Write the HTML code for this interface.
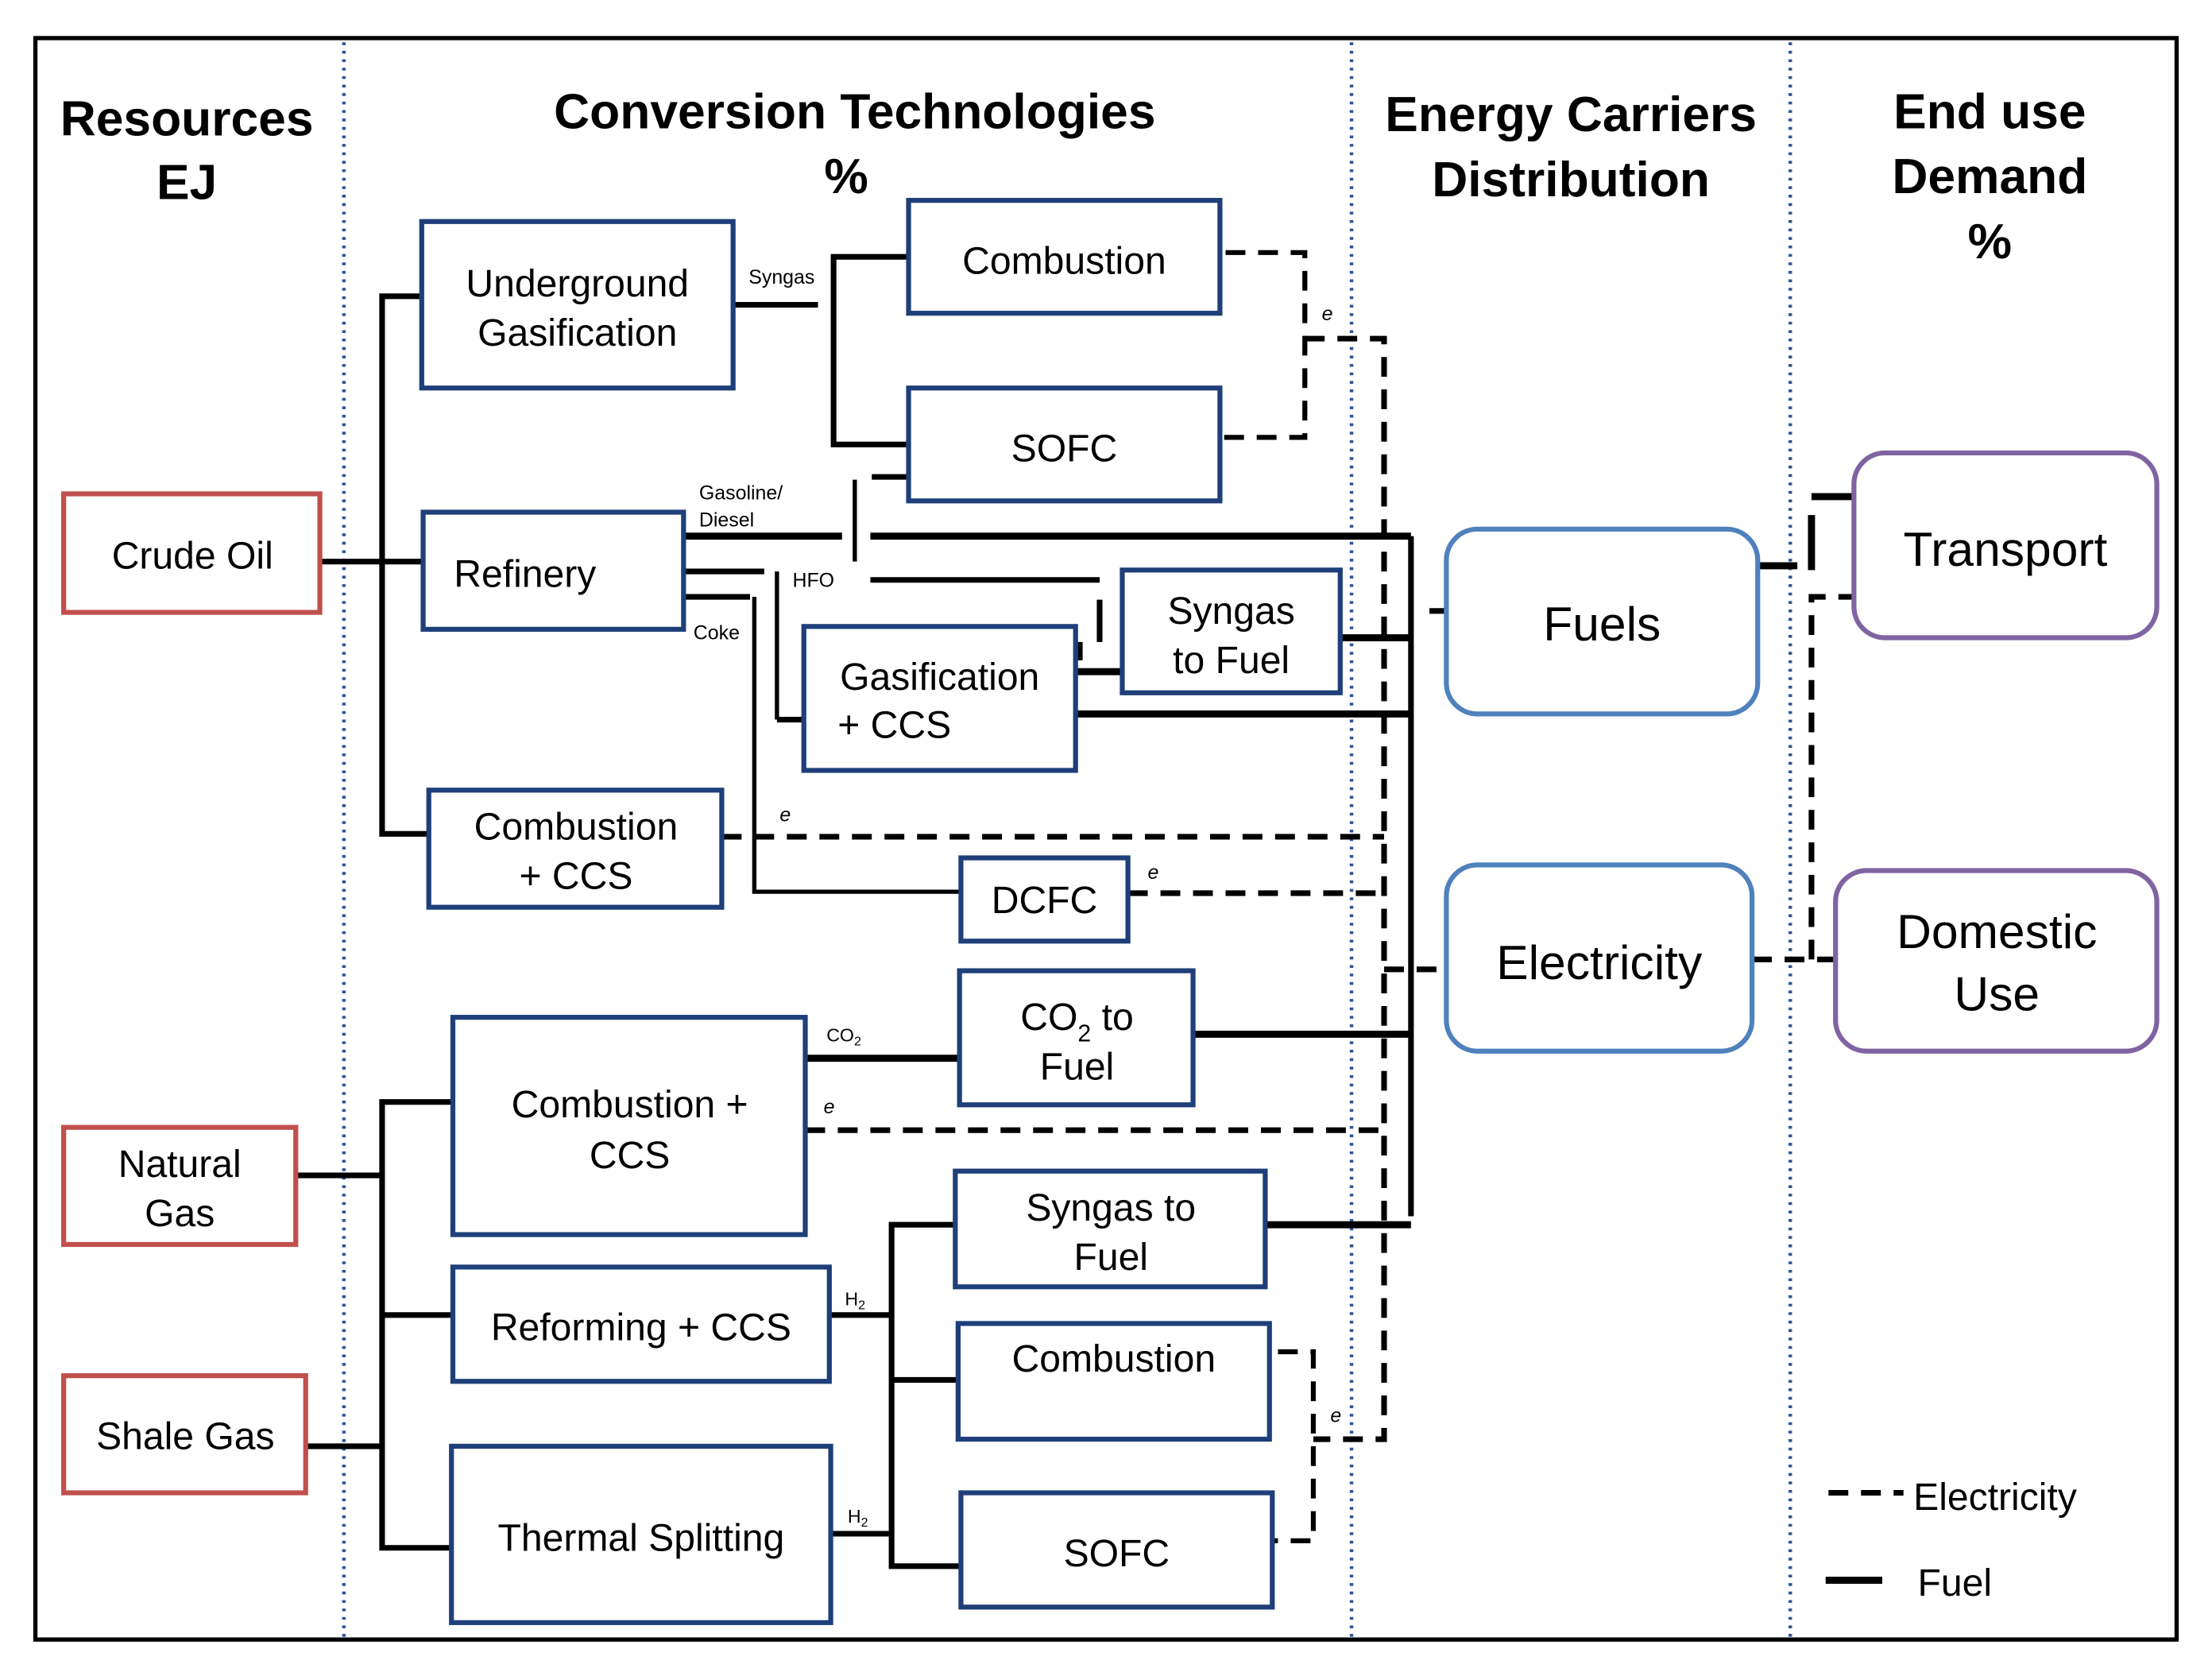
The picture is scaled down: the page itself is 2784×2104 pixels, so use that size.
<!DOCTYPE html>
<html><head><meta charset="utf-8"><style>
html,body{margin:0;padding:0;background:#fff;}
svg{display:block;}
text{font-family:"Liberation Sans",sans-serif;}
</style></head><body>
<svg width="2784" height="2104" viewBox="0 0 1563 1185" preserveAspectRatio="none" xmlns="http://www.w3.org/2000/svg">
<rect x="0" y="0" width="1563" height="1185" fill="#fff"/>
<rect x="25" y="27" width="1513" height="1135" fill="none" stroke="#000" stroke-width="3"/>
<g stroke="#2e5597" stroke-width="2.5" stroke-dasharray="2,4">
<line x1="243" y1="30" x2="243" y2="1160"/><line x1="955" y1="30" x2="955" y2="1160"/><line x1="1265" y1="30" x2="1265" y2="1160"/>
</g>
<g font-weight="bold" font-size="35" text-anchor="middle" fill="#000">
<text x="132" y="96">Resources</text><text x="132" y="141">EJ</text>
<text x="604" y="91">Conversion Technologies</text><text x="598" y="137">%</text>
<text x="1110" y="93">Energy Carriers</text><text x="1110" y="139">Distribution</text>
<text x="1406" y="91">End use</text><text x="1406" y="137">Demand</text><text x="1406" y="183">%</text>
</g>
<!-- solid connectors -->
<g stroke="#000" stroke-width="4" fill="none">
<line x1="226" y1="398" x2="298" y2="398"/>
<polyline points="298,210 270,210 270,591 303,591"/>
<line x1="518" y1="216" x2="578" y2="216"/>
<polyline points="665,182 589,182 589,315 642,315"/>
<line x1="616" y1="338" x2="642" y2="338"/>
<line x1="604" y1="340" x2="604" y2="398" stroke-width="3"/>
<line x1="483" y1="380" x2="595" y2="380" stroke-width="5"/>
<line x1="615" y1="380" x2="997" y2="380" stroke-width="5"/>
<polyline points="483,405 540,405"/>
<line x1="549" y1="405" x2="549" y2="510" stroke-width="3"/>
<line x1="549" y1="510" x2="568" y2="510"/>
<line x1="615" y1="411" x2="777" y2="411"/>
<line x1="777" y1="425" x2="777" y2="455"/>
<line x1="763" y1="455" x2="763" y2="468"/>
<polyline points="483,423 530,423"/>
<polyline points="533,423 533,632 679,632" stroke-width="3"/>
<line x1="760" y1="476" x2="793" y2="476" stroke-width="5"/>
<line x1="947" y1="452" x2="997" y2="452" stroke-width="5"/>
<line x1="760" y1="506" x2="997" y2="506" stroke-width="5"/>
<line x1="997" y1="380" x2="997" y2="862"/>
<line x1="569" y1="750" x2="678" y2="750" stroke-width="5"/>
<line x1="843" y1="733" x2="997" y2="733" stroke-width="5"/>
<line x1="894" y1="868" x2="997" y2="868" stroke-width="5"/>
<line x1="209" y1="833" x2="270" y2="833"/>
<line x1="216" y1="1025" x2="270" y2="1025"/>
<polyline points="320,781 270,781 270,1097 319,1097"/>
<line x1="270" y1="932" x2="320" y2="932"/>
<line x1="586" y1="932" x2="630" y2="932"/>
<line x1="587" y1="1087" x2="628" y2="1087"/>
<polyline points="675,868 630,868 630,1110 679,1110"/>
<line x1="630" y1="978" x2="677" y2="978"/>
<line x1="1010" y1="433" x2="1022" y2="433"/>
<line x1="1242" y1="401" x2="1270" y2="401" stroke-width="5"/>
<line x1="1280" y1="365" x2="1280" y2="404" stroke-width="5"/>
<line x1="1280" y1="352" x2="1310" y2="352" stroke-width="5"/>
<line x1="1290" y1="1120" x2="1330" y2="1120" stroke-width="5"/>
</g>
<!-- dashed connectors -->
<g stroke="#000" stroke-width="4" fill="none" stroke-dasharray="14,9">
<polyline points="866,179 922,179 922,310 862,310" stroke-width="3.5"/>
<polyline points="922,240 978,240 978,1020 928,1020"/>
<line x1="510" y1="593" x2="978" y2="593"/>
<line x1="797" y1="633" x2="978" y2="633"/>
<line x1="569" y1="801" x2="978" y2="801"/>
<polyline points="903,958 928,958 928,1092 899,1092" stroke-width="3.5"/>
<line x1="978" y1="687" x2="1022" y2="687"/>
<line x1="1238" y1="680" x2="1297" y2="680"/>
<polyline points="1280,680 1280,423 1315,423"/>
<line x1="1292" y1="1058" x2="1345" y2="1058"/>
</g>
<!-- tech boxes -->
<g fill="#fff" stroke="#1f3f7a" stroke-width="3.5">
<rect x="298" y="157" width="220" height="118"/>
<rect x="642" y="142" width="220" height="80"/>
<rect x="642" y="275" width="220" height="80"/>
<rect x="299" y="363" width="184" height="83"/>
<rect x="793" y="404" width="154" height="87"/>
<rect x="568" y="444" width="192" height="102"/>
<rect x="303" y="560" width="207" height="83"/>
<rect x="679" y="608" width="118" height="59"/>
<rect x="678" y="688" width="165" height="95"/>
<rect x="320" y="721" width="249" height="154"/>
<rect x="675" y="830" width="219" height="82"/>
<rect x="320" y="898" width="266" height="81"/>
<rect x="677" y="938" width="220" height="82"/>
<rect x="319" y="1025" width="268" height="125"/>
<rect x="679" y="1058" width="220" height="81"/>
</g>
<g fill="#fff" stroke="#c0504d" stroke-width="3.5">
<rect x="45" y="350" width="181" height="84"/>
<rect x="45" y="799" width="164" height="83"/>
<rect x="45" y="975" width="171" height="83"/>
</g>
<g fill="#fff" stroke="#4f81bd" stroke-width="3.5">
<rect x="1022" y="375" width="220" height="131" rx="22"/>
<rect x="1022" y="613" width="216" height="132" rx="22"/>
</g>
<g fill="#fff" stroke="#8064a2" stroke-width="3.5">
<rect x="1310" y="321" width="214" height="131" rx="22"/>
<rect x="1297" y="617" width="227" height="128" rx="22"/>
</g>
<g font-size="27" text-anchor="middle" fill="#000">
<text x="408" y="210">Underground</text><text x="408" y="245">Gasification</text>
<text x="752" y="194">Combustion</text>
<text x="752" y="327">SOFC</text>
<text x="371" y="416">Refinery</text>
<text x="870" y="442">Syngas</text><text x="870" y="477">to Fuel</text>
<text x="664" y="489">Gasification</text><text x="632" y="523">+ CCS</text>
<text x="407" y="595">Combustion</text><text x="407" y="630">+ CCS</text>
<text x="738" y="647">DCFC</text>
<text x="761" y="730">CO<tspan font-size="17" dy="8">2</tspan><tspan dy="-8"> to</tspan></text><text x="761" y="765">Fuel</text>
<text x="445" y="792">Combustion +</text><text x="445" y="828">CCS</text>
<text x="785" y="865">Syngas to</text><text x="785" y="900">Fuel</text>
<text x="453" y="950">Reforming + CCS</text>
<text x="787" y="972">Combustion</text>
<text x="453" y="1099">Thermal Splitting</text>
<text x="789" y="1110">SOFC</text>
<text x="136" y="403">Crude Oil</text>
<text x="127" y="834">Natural</text><text x="127" y="869">Gas</text>
<text x="131" y="1027">Shale Gas</text>
<text x="1132" y="454" font-size="34">Fuels</text>
<text x="1130" y="694" font-size="34">Electricity</text>
<text x="1417" y="401" font-size="34">Transport</text>
<text x="1411" y="672" font-size="34">Domestic</text><text x="1411" y="716" font-size="34">Use</text>
</g>
<g font-size="14" fill="#000">
<text x="529" y="201">Syngas</text>
<text x="494" y="354">Gasoline/</text><text x="494" y="373">Diesel</text>
<text x="560" y="416">HFO</text>
<text x="490" y="453">Coke</text>
<text x="584" y="738" font-size="13">CO<tspan font-size="9" dy="3">2</tspan></text>
<text x="597" y="925" font-size="13">H<tspan font-size="9" dy="3">2</tspan></text>
<text x="599" y="1079" font-size="13">H<tspan font-size="9" dy="3">2</tspan></text>
</g>
<g font-size="14" font-style="italic" fill="#000">
<text x="934" y="227">e</text><text x="551" y="582">e</text><text x="811" y="623">e</text>
<text x="582" y="789">e</text><text x="940" y="1008">e</text>
</g>
<g font-size="27" fill="#000">
<text x="1352" y="1070">Electricity</text>
<text x="1355" y="1131">Fuel</text>
</g>
</svg>
</body></html>
